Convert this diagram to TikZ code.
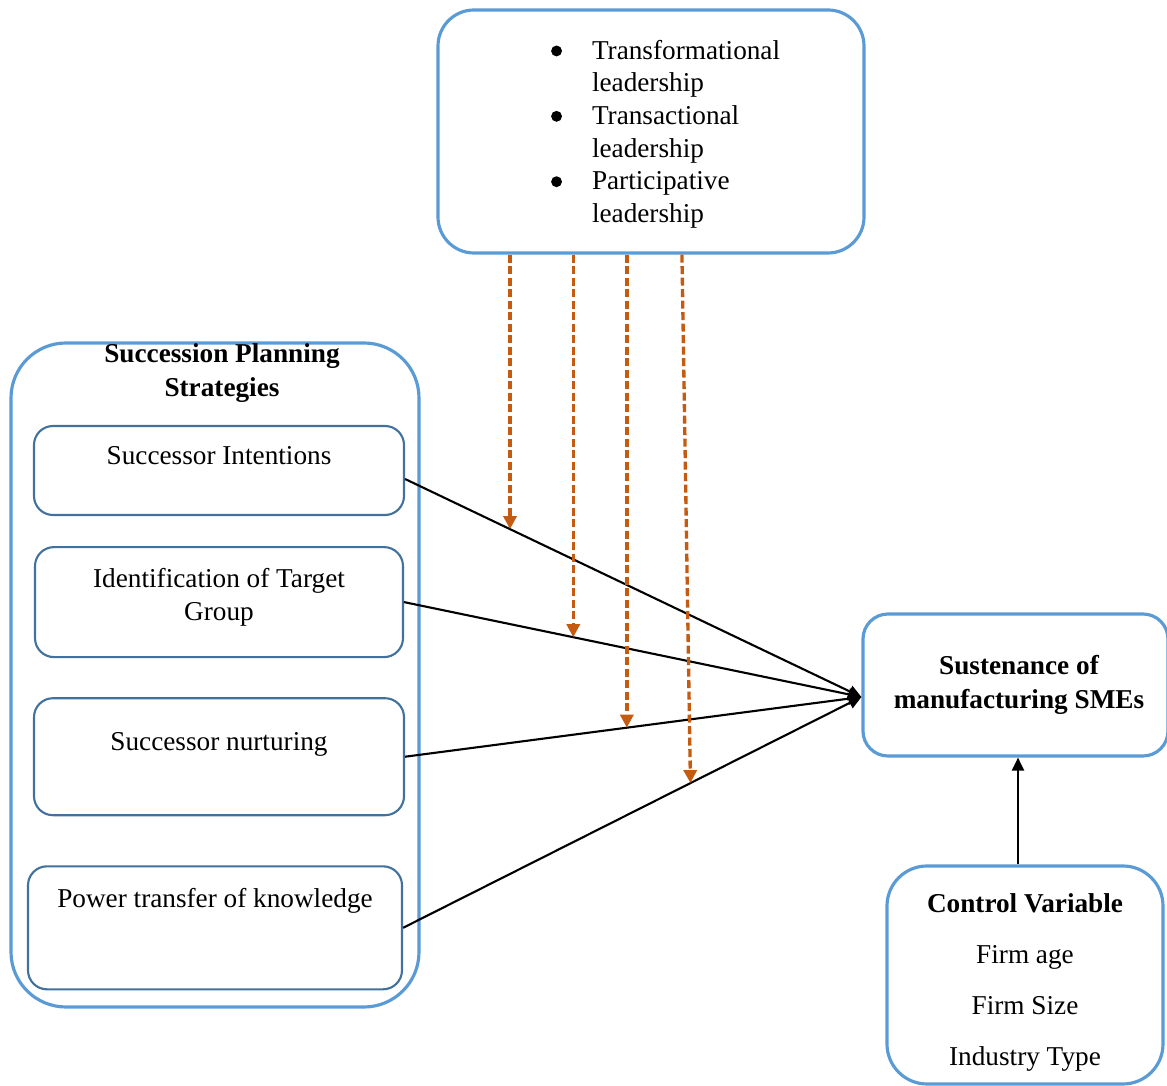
\documentclass[tikz,border=0pt]{standalone}
\usepackage{fontspec}
\setmainfont{Liberation Serif}
\usetikzlibrary{arrows.meta,positioning,calc}
\definecolor{FrameBlue}{HTML}{5B9BD5}
\definecolor{InnerBlue}{HTML}{41719C}
\definecolor{BurntOrange}{HTML}{C55A11}
\newcommand{\bodyfont}{\fontsize{15.5}{18.6}\selectfont}
\newcommand{\headfont}{\fontsize{15.5}{19.3}\selectfont\bfseries}
\newcommand{\ctrlfont}{\fontsize{15.5}{29}\selectfont}
\newcommand{\dotmark}{\tikz[baseline=-0.3em]\fill (0,0) circle (0.2em);}
\newcommand{\lind}{\hspace*{3.08cm}}
\newcommand{\lbul}{\lind\llap{\dotmark\hspace{0.6cm}}}

\begin{document}
\begin{tikzpicture}[every node/.style={font=\bodyfont},
bluebox/.style={draw=FrameBlue,line width=1.8pt,rounded corners=#1},
subbox/.style={draw=InnerBlue,line width=1.2pt,rounded corners=0.38cm,minimum width=7.4cm},
boxtext/.style={anchor=north,inner sep=0pt,align=center},
arr/.style={-{Triangle[length=2.6mm,width=2.4mm]},line width=1.2pt},
mod/.style={-{Triangle[length=2.6mm,width=2.6mm]},line width=1.9pt,BurntOrange,dash pattern=on 1.6mm off 0.7mm}]
\useasboundingbox (0,0) rectangle (23.34,-21.72);
\node[bluebox=0.72cm,minimum width=8.52cm,minimum height=4.86cm,text width=8.52cm,inner xsep=0pt,align=left] (lead) at (13.02,-2.63) {\lbul\rule{0pt}{0.49cm}Transformational\\\lind leadership\\\lbul Transactional\\\lind leadership\\\lbul Participative\\\lind leadership};
\node[bluebox=1.1cm,minimum width=8.16cm,minimum height=13.28cm,
  label={[boxtext,font=\headfont,xshift=0.14cm,yshift=-0.03cm]north:Succession Planning\\Strategies}] (sps) at (4.30,-13.50) {};
\node[subbox,minimum height=1.78cm,label={[boxtext,yshift=-0.42cm]north:Successor Intentions}] (si) at (4.38,-9.41) {};
\node[subbox,minimum width=7.36cm,minimum height=2.20cm,below=0.60cm of si,
  label={[boxtext,yshift=-0.44cm]north:Identification of Target\\Group}] (itg) {};
\node[subbox,minimum height=2.34cm,below=0.78cm of itg,label={[boxtext,yshift=-0.70cm]north:Successor nurturing}] (sn) {};
\node[subbox,minimum width=7.48cm,minimum height=2.46cm,below=0.98cm of sn,xshift=-0.08cm,
  label={[boxtext,yshift=-0.46cm]north:Power transfer of knowledge}] (ptk) {};
\node[bluebox=0.5cm,minimum width=6.10cm,minimum height=2.84cm,align=center,font=\headfont] (sus) at (20.31,-13.70) {\hspace*{0.14cm}Sustenance of\\\hspace*{0.14cm}manufacturing SMEs};
\node[bluebox=0.8cm,minimum width=5.52cm,minimum height=4.36cm,
  label={[boxtext,font=\ctrlfont,yshift=-0.58cm]north:{\bfseries Control Variable}\\Firm age\\Firm Size\\Industry Type}] (ctrl) at (20.50,-19.50) {};
% strategies -> sustenance
\coordinate (siout) at ([yshift=-0.17cm]si.east);
\coordinate (hub) at ([yshift=-0.24cm]sus.west);
\draw[arr] (siout) -- (hub);
\draw[arr] (itg.east) -- (hub);
\draw[arr] (sn.east) -- (hub);
\draw[arr] (ptk.east) -- (hub);
\draw[arr] ($(ctrl.north -| sus.south)+(0.05,0)$) -- ($(sus.south)+(0.05,0)$);
% leadership styles moderate each path
\coordinate (d1) at ($(siout)!0.23!(hub)$);
\coordinate (d2) at ($(itg.east)!0.37!(hub)$);
\coordinate (d3) at ($(sn.east)!0.486!(hub)$);
\coordinate (d4) at ($(ptk.east)!0.627!(hub)$);
\foreach \d in {d1,d2,d3}
  \draw[mod] (\d |- lead.south) -- (\d);
\draw[mod] ($(d4 |- lead.south)+(-0.17,0)$) -- (d4);
\end{tikzpicture}
\end{document}
